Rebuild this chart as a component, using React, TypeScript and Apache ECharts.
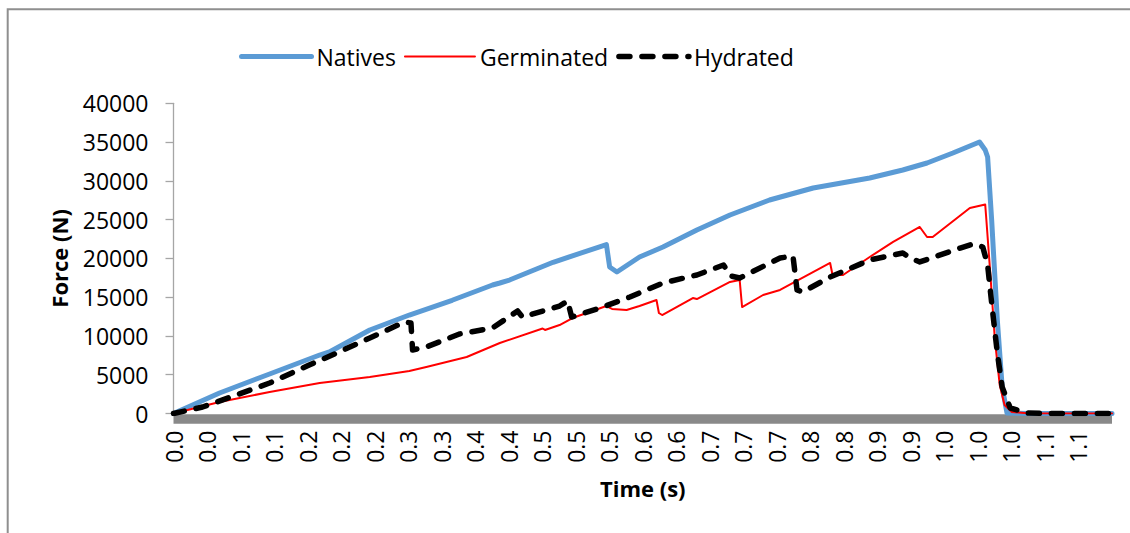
import React, { useEffect, useRef } from "react";
import * as echarts from "echarts";

// x-axis tick labels (Excel rounds the time of every tick to one decimal)
const timeTickLabels = [
  "0.0", "0.0", "0.1", "0.1", "0.2", "0.2", "0.2", "0.3", "0.3", "0.4",
  "0.4", "0.5", "0.5", "0.5", "0.6", "0.6", "0.7", "0.7", "0.7", "0.8",
  "0.8", "0.9", "0.9", "1.0", "1.0", "1.0", "1.1", "1.1",
];
const timeTickStep = 0.0415; // seconds between two tick labels
const timeMax = 1.162; // seconds
const forceMax = 40000;
const forceStep = 5000;

const seriesNames = ["Natives", "Germinated", "Hydrated"];

// [time (s), force (N)]
const nativesData = [
  [0, 0], [0.057, 2640], [0.119, 5090], [0.181, 7540], [0.193, 7930],
  [0.243, 10770], [0.292, 12700], [0.345, 14600], [0.395, 16570], [0.404, 16830],
  [0.416, 17210], [0.47, 19500], [0.536, 21790], [0.54, 18890], [0.549, 18250],
  [0.577, 20180], [0.606, 21470], [0.648, 23660], [0.689, 25600], [0.738, 27530],
  [0.792, 29080], [0.862, 30370], [0.903, 31400], [0.933, 32300], [0.965, 33590],
  [0.998, 35010], [1.005, 33980], [1.008, 33080], [1.013, 24950], [1.02, 12060],
  [1.026, 3420], [1.032, 60], [1.06, 0], [1.162, 0],
];

const germinatedData = [
  [0, 0], [0.057, 1480], [0.119, 2770], [0.181, 3930], [0.243, 4710],
  [0.292, 5480], [0.313, 6000], [0.363, 7290], [0.404, 9090], [0.457, 10960],
  [0.46, 10770], [0.478, 11410], [0.494, 12310], [0.536, 13860], [0.543, 13480],
  [0.561, 13350], [0.577, 13860], [0.598, 14640], [0.601, 12960], [0.605, 12700],
  [0.643, 14890], [0.648, 14760], [0.689, 16960], [0.701, 17210], [0.704, 13730],
  [0.73, 15280], [0.751, 15930], [0.813, 19410], [0.816, 17860], [0.829, 17860],
  [0.862, 20180], [0.891, 22120], [0.924, 24050], [0.933, 22760], [0.94, 22760],
  [0.986, 26500], [1.005, 26960], [1.006, 25600], [1.011, 18500], [1.017, 9480],
  [1.023, 3670], [1.029, 1100], [1.038, 190], [1.06, 0], [1.162, 0],
];

const hydratedData = [
  [0, 0], [0.036, 840], [0.078, 2390], [0.119, 3930], [0.168, 6250],
  [0.202, 7800], [0.243, 9730], [0.286, 11800], [0.294, 11670], [0.296, 8190],
  [0.313, 8580], [0.354, 10250], [0.395, 11030], [0.426, 13220], [0.432, 12440],
  [0.478, 13860], [0.488, 14510], [0.493, 12440], [0.528, 13600], [0.565, 15020],
  [0.606, 16830], [0.648, 17860], [0.681, 19150], [0.69, 17730], [0.701, 17470],
  [0.751, 20050], [0.767, 20310], [0.772, 15930], [0.779, 15670], [0.813, 17600],
  [0.862, 19790], [0.903, 20700], [0.912, 20050], [0.924, 19540], [0.974, 21340],
  [0.99, 21860], [1.002, 21470], [1.008, 19150], [1.013, 14250], [1.02, 7800],
  [1.026, 3420], [1.036, 710], [1.057, 60], [1.08, 0], [1.162, 0],
];

const FONT = "Open Sans";

export default function App() {
  const ref = useRef<HTMLDivElement>(null);

  useEffect(() => {
    if (!ref.current) return;
    const chart = echarts.init(ref.current, null, { renderer: "svg" });
    chart.setOption({
      animation: false,
      backgroundColor: "#ffffff",
      textStyle: { fontFamily: FONT, color: "#000" },
      graphic: [
        {
          type: "polyline",
          shape: { points: [[7.7, 533], [7.7, 9.2], [1130, 9.2]] },
          style: { stroke: "#8f8f8f", lineWidth: 2, fill: "none" },
          silent: true,
        },
      ],
      legend: {
        left: 234,
        top: 40,
        itemWidth: 70,
        itemHeight: 14,
        itemGap: 8,
        data: seriesNames,
        textStyle: { fontFamily: FONT, fontSize: 23, color: "#000" },
        lineStyle: { width: "inherit" },
        itemStyle: { opacity: 0, borderWidth: 0 },
      },
      grid: { left: 173.5, right: 18, top: 103.3, bottom: 119.5, containLabel: false },
      xAxis: {
        type: "value",
        min: 0,
        max: timeMax,
        interval: timeTickStep,
        offset: 5,
        name: "Time (s)",
        nameLocation: "middle",
        nameGap: 58,
        nameTextStyle: { fontFamily: FONT, fontSize: 22, fontWeight: "bold", color: "#000" },
        axisLine: { show: true, onZero: false, lineStyle: { color: "#898989", width: 9.5, cap: "butt" } },
        axisTick: { show: false },
        splitLine: { show: false },
        axisLabel: {
          rotate: 90,
          margin: 12,
          fontFamily: FONT,
          fontSize: 23,
          color: "#000",
          formatter: (v: number) => {
            const i = Math.round(v / timeTickStep);
            return timeTickLabels[i] ?? "";
          },
        },
      },
      yAxis: {
        type: "value",
        min: 0,
        max: forceMax,
        interval: forceStep,
        name: "Force (N)",
        nameLocation: "middle",
        nameGap: 104,
        nameTextStyle: { fontFamily: FONT, fontSize: 22, fontWeight: "bold", color: "#000" },
        axisLine: { show: true, lineStyle: { color: "#a6a6a6", width: 1.3 } },
        axisTick: { show: true, inside: false, length: 8, lineStyle: { color: "#a6a6a6", width: 1.3 } },
        splitLine: { show: false },
        axisLabel: {
          margin: 25,
          fontFamily: FONT,
          fontSize: 23,
          color: "#000",
          formatter: (v: number) => String(v),
        },
      },
      series: [
        {
          name: seriesNames[0],
          type: "line",
          data: nativesData,
          symbol: "none",
          showSymbol: false,
          lineStyle: { color: "#5b9bd5", width: 5, cap: "round", join: "round" },
          itemStyle: { color: "#5b9bd5" },
          z: 2,
        },
        {
          name: seriesNames[1],
          type: "line",
          data: germinatedData,
          symbol: "none",
          showSymbol: false,
          lineStyle: { color: "#ff0000", width: 2, cap: "round", join: "round" },
          itemStyle: { color: "#ff0000" },
          z: 3,
        },
        {
          name: seriesNames[2],
          type: "line",
          data: hydratedData,
          symbol: "none",
          showSymbol: false,
          lineStyle: { color: "#000000", width: 5.5, type: [11, 12], cap: "round", join: "round" },
          itemStyle: { color: "#000000" },
          z: 4,
        },
      ],
    });
    return () => chart.dispose();
  }, []);

  return (
    <div
      ref={ref}
      style={{ position: "absolute", left: 0, top: 0, width: 1130, height: 533 }}
    />
  );
}
